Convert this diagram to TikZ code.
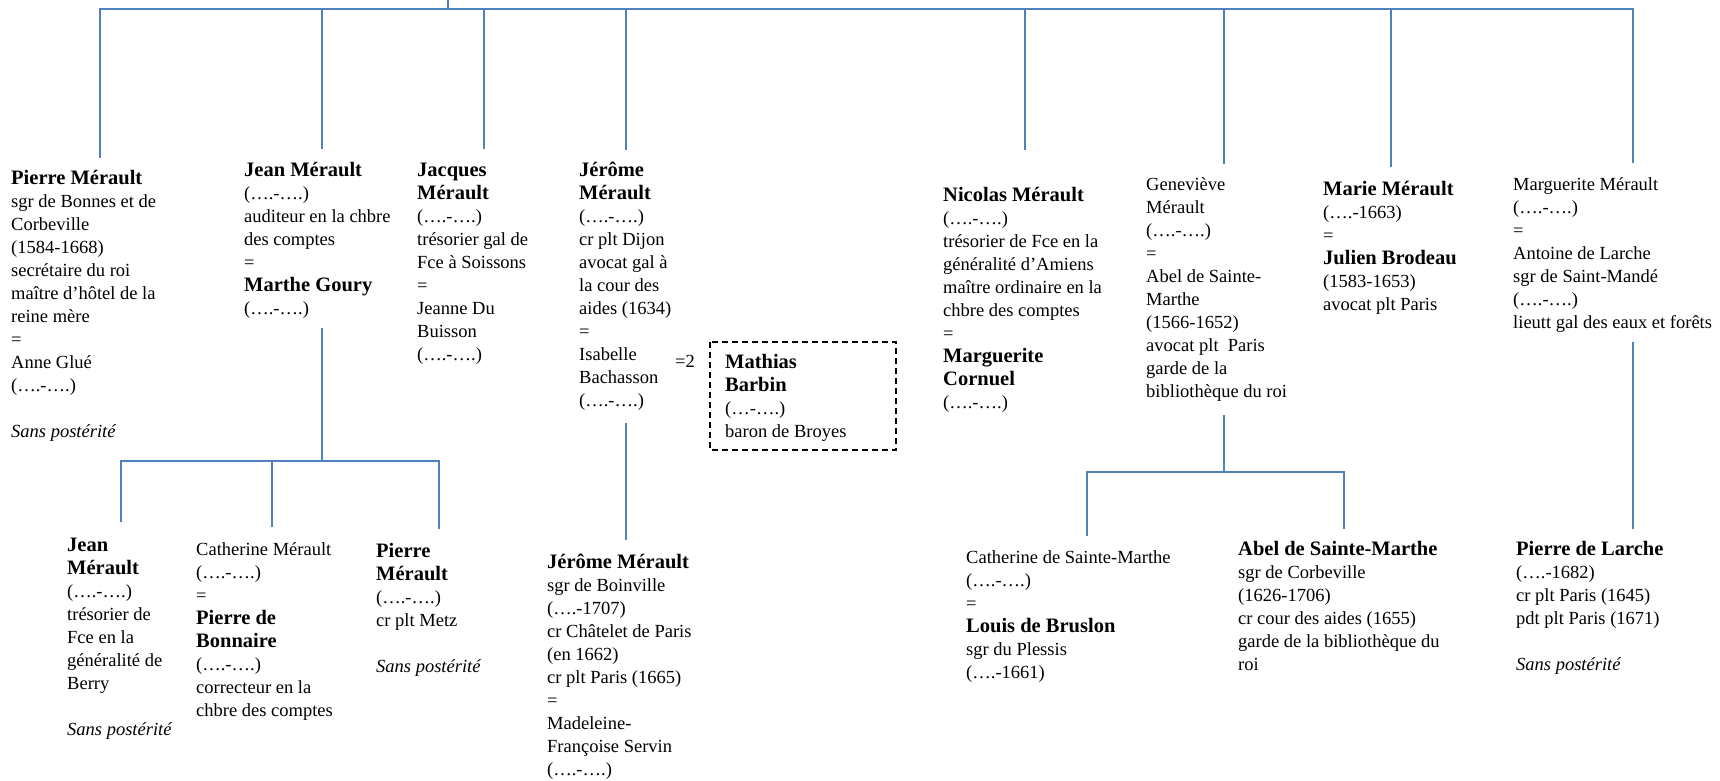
\documentclass[tikz,border=0pt]{standalone}
\usepackage{fontspec}
\setmainfont{Liberation Serif}
\definecolor{treeblue}{RGB}{79,129,189}
\newcommand{\nm}[1]{{\fontsize{20.5}{23}\selectfont\bfseries #1}}
\newcommand{\nopost}{\textit{Sans postérité}}
\tikzset{
  % ancre : ligne de base de la dernière ligne
  person/.style={anchor=base west, align=left, inner sep=0pt, font=\fontsize{18.5}{23}\selectfont},
  link/.style={treeblue, line width=1.6pt},
  dashbox/.style={black, line width=1.5pt, dash pattern=on 6pt off 4pt},
}
\begin{document}
\begin{tikzpicture}[x=1pt, y=-1pt]
    \useasboundingbox (0,0) rectangle (1720,780);
    % enfants (premier rang)
    \node[person] (pierre) at (11,437) {\nm{Pierre Mérault}\\sgr de Bonnes et de\\Corbeville\\(1584-1668)\\secrétaire du roi\\maître d’hôtel de la\\reine mère\\=\\Anne Glué\\(….-….)\\[23pt]\nopost};
    \node[person] (jean) at (244,314) {\nm{Jean Mérault}\\(….-….)\\auditeur en la chbre\\des comptes\\=\\\nm{Marthe Goury}\\(….-….)};
    \node[person] (jacques) at (417,360) {\nm{Jacques}\\\nm{Mérault}\\(….-….)\\trésorier gal de\\Fce à Soissons\\=\\Jeanne Du\\Buisson\\(….-….)};
    \node[person] (jerome) at (579,406) {\nm{Jérôme}\\\nm{Mérault}\\(….-….)\\cr plt Dijon\\avocat gal à\\la cour des\\aides (1634)\\=\\Isabelle\\Bachasson\\(….-….)};
    \node[person] (eq2) at (675,367) {=2};
    \node[person] (barbin) at (725,437) {\nm{Mathias}\\\nm{Barbin}\\(…-….)\\baron de Broyes};
    \draw[dashbox] (710,342) rectangle (896,450);
    \node[person] (nicolas) at (943,408) {\nm{Nicolas Mérault}\\(….-….)\\trésorier de Fce en la\\généralité d’Amiens\\maître ordinaire en la\\chbre des comptes\\=\\\nm{Marguerite}\\\nm{Cornuel}\\(….-….)};
    \node[person] (genevieve) at (1146,397) {Geneviève\\Mérault\\(….-….)\\=\\Abel de Sainte-\\Marthe\\(1566-1652)\\avocat plt~ Paris\\garde de la\\bibliothèque du roi};
    \node[person] (marie) at (1323,310) {\nm{Marie Mérault}\\(….-1663)\\=\\\nm{Julien Brodeau}\\(1583-1653)\\avocat plt Paris};
    \node[person] (marguerite) at (1513,328) {Marguerite Mérault\\(….-….)\\=\\Antoine de Larche\\sgr de Saint-Mandé\\(….-….)\\lieutt gal des eaux et forêts};
    % petits-enfants (second rang)
    \node[person] (jeanF) at (67,735) {\nm{Jean}\\\nm{Mérault}\\(….-….)\\trésorier de\\Fce en la\\généralité de\\Berry\\[23pt]\nopost};
    \node[person] (catherine) at (196,716) {Catherine Mérault\\(….-….)\\=\\\nm{Pierre de}\\\nm{Bonnaire}\\(….-….)\\correcteur en la\\chbre des comptes};
    \node[person] (pierreF) at (376,672) {\nm{Pierre}\\\nm{Mérault}\\(….-….)\\cr plt Metz\\[23pt]\nopost};
    \node[person] (jeromeF) at (547,775) {\nm{Jérôme Mérault}\\sgr de Boinville\\(….-1707)\\cr Châtelet de Paris\\(en 1662)\\cr plt Paris (1665)\\=\\Madeleine-\\Françoise Servin\\(….-….)};
    \node[person] (catherineSM) at (966,678) {Catherine de Sainte-Marthe\\(….-….)\\=\\\nm{Louis de Bruslon}\\sgr du Plessis\\(….-1661)};
    \node[person] (abel) at (1238,670) {\nm{Abel de Sainte-Marthe}\\sgr de Corbeville\\(1626-1706)\\cr cour des aides (1655)\\garde de la bibliothèque du\\roi};
    \node[person] (pierreL) at (1516,670) {\nm{Pierre de Larche}\\(….-1682)\\cr plt Paris (1645)\\pdt plt Paris (1671)\\[23pt]\nopost};
    % accolade du haut
    \coordinate (root) at (448,0);
    \coordinate (bar) at (0,9);
    \coordinate (dPierre) at (100,158);
    \coordinate (dJean) at (322,149);
    \coordinate (dJacques) at (484,149);
    \coordinate (dJerome) at (626,150);
    \coordinate (dNicolas) at (1025,150);
    \coordinate (dGenevieve) at (1224,164);
    \coordinate (dMarie) at (1391,167);
    \coordinate (dMarguerite) at (1633,163);
    \draw[link] (root) -- (root |- bar);
    \draw[link] (dPierre) -- (dPierre |- bar) -- (dMarguerite |- bar) -- (dMarguerite);
    \foreach \d in {dJean,dJacques,dJerome,dNicolas,dGenevieve,dMarie}
        \draw[link] (\d) -- (\d |- bar);
    % descendance de Jean
    \coordinate (jTop) at (322,328);
    \coordinate (jBar) at (0,461);
    \coordinate (dJeanF) at (121,522);
    \coordinate (dCatherine) at (272,527);
    \coordinate (dPierreF) at (439,529);
    \draw[link] (jTop) -- (jTop |- jBar);
    \draw[link] (dJeanF) -- (dJeanF |- jBar) -- (dPierreF |- jBar) -- (dPierreF);
    \draw[link] (dCatherine) -- (dCatherine |- jBar);
    % descendance de Jérôme
    \coordinate (jeTop) at (626,423);
    \coordinate (dJeromeF) at (626,540);
    \draw[link] (jeTop) -- (dJeromeF);
    % descendance de Geneviève
    \coordinate (gTop) at (1224,415);
    \coordinate (gBar) at (0,472);
    \coordinate (dCatherineSM) at (1087,536);
    \coordinate (dAbel) at (1344,529);
    \draw[link] (gTop) -- (gTop |- gBar);
    \draw[link] (dCatherineSM) -- (dCatherineSM |- gBar) -- (dAbel |- gBar) -- (dAbel);
    % descendance de Marguerite
    \coordinate (mTop) at (1633,342);
    \coordinate (dPierreL) at (1633,529);
    \draw[link] (mTop) -- (dPierreL);
\end{tikzpicture}
\end{document}
